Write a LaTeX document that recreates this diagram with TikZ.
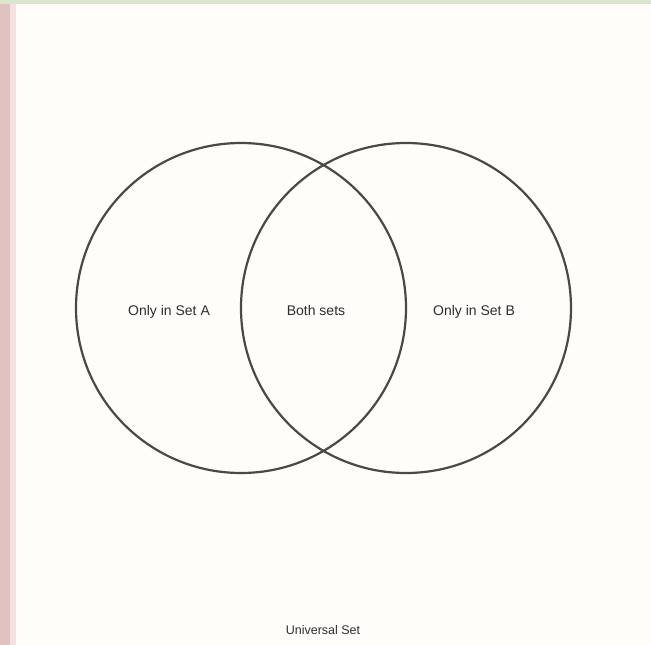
\documentclass[tikz,border=0pt]{standalone}
\usepackage{fontspec}
\setmainfont{Liberation Sans}
\definecolor{pagebg}{RGB}{254,253,250}
\definecolor{topband}{RGB}{218,230,205}
\definecolor{leftband}{RGB}{224,194,190}
\definecolor{leftband2}{RGB}{245,225,225}
\definecolor{ringcol}{RGB}{75,72,70}
\begin{document}
\begin{tikzpicture}[x=1pt,y=-1pt,
  setring/.style={draw=ringcol, line width=2.2pt},
  lbl/.style={font=\fontsize{14}{16}\selectfont, text=black!82, anchor=base},
  captext/.style={font=\fontsize{12.5}{14}\selectfont, text=black!82, anchor=base}]
  \useasboundingbox (0,0) rectangle (651,645);
  \fill[pagebg] (0,0) rectangle (651,645);
  \fill[topband] (0,0) rectangle (651,4);
  \fill[leftband] (0,4) rectangle (10,645);
  \fill[leftband2] (10,4) rectangle (16,645);
  \node[setring, circle, minimum size=330pt, inner sep=0pt] (setA) at (241,308) {};
  \node[setring, circle, minimum size=330pt, inner sep=0pt] (setB) at (406,308) {};
  \node[lbl] (onlyA) at (169,315) {Only in Set A};
  \node[lbl] (both) at (316,315) {Both sets};
  \node[lbl] (onlyB) at (474,315) {Only in Set B};
  \node[captext] (title) at (323,634) {Universal Set};
\end{tikzpicture}
\end{document}
